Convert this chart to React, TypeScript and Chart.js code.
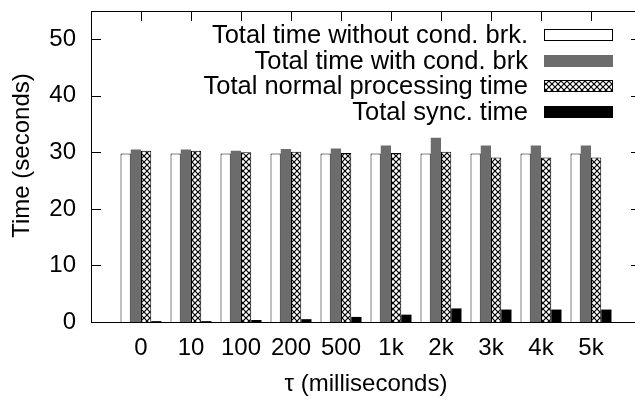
import React, { useEffect, useRef } from "react";
import { Chart, registerables } from "chart.js";

Chart.register(...registerables);

// τ values (ms) on the x axis
const categories = ["0", "10", "100", "200", "500", "1k", "2k", "3k", "4k", "5k"];

// Times in seconds
const timeWithoutBrk = [29.8, 29.8, 29.8, 29.8, 29.8, 29.8, 29.8, 29.8, 29.8, 29.8];
const timeWithBrk = [30.5, 30.5, 30.3, 30.6, 30.7, 31.2, 32.6, 31.2, 31.2, 31.2];
const normalProcTime = [30.3, 30.3, 30.0, 30.1, 29.9, 29.9, 30.1, 29.1, 29.1, 29.1];
const syncTime = [0.15, 0.15, 0.35, 0.5, 0.9, 1.3, 2.4, 2.2, 2.2, 2.2];

const seriesNames = [
  "Total time without cond. brk.",
  "Total time with cond. brk",
  "Total normal processing time",
  "Total sync. time",
];

const yTicks = [0, 10, 20, 30, 40, 50];
const yTitle = "Time (seconds)";

const FONT = "'Liberation Sans', Arial, Helvetica, sans-serif";

function makeCrosshatch(): CanvasPattern | string {
  const tile = document.createElement("canvas");
  tile.width = 6;
  tile.height = 6;
  const c = tile.getContext("2d");
  if (!c) return "#ccc";
  c.fillStyle = "#fff";
  c.fillRect(0, 0, 6, 6);
  c.strokeStyle = "#000";
  c.lineWidth = 1.2;
  c.beginPath();
  c.moveTo(0, 0);
  c.lineTo(6, 6);
  c.moveTo(6, 0);
  c.lineTo(0, 6);
  c.stroke();
  const p = c.createPattern(tile, "repeat");
  return p || "#ccc";
}

const toPoints = (vals: number[]) => vals.map((v, i) => ({ x: i, y: v }));

// inward tick marks drawn under the bars, frame and y title on top
const framePlugin = {
  id: "frame",
  beforeDatasetsDraw(chart: any) {
    const { ctx, chartArea: a, scales } = chart;
    const len = 10;
    ctx.save();
    ctx.strokeStyle = "#000";
    ctx.lineWidth = 1;
    ctx.beginPath();
    yTicks.forEach((t) => {
      const y = Math.round(scales.y.getPixelForValue(t)) + 0.5;
      ctx.moveTo(a.left, y);
      ctx.lineTo(a.left + len, y);
      ctx.moveTo(a.right, y);
      ctx.lineTo(a.right - len, y);
    });
    categories.forEach((_, i) => {
      const x = Math.round(scales.x.getPixelForValue(i)) + 0.5;
      ctx.moveTo(x, a.top);
      ctx.lineTo(x, a.top + len);
      ctx.moveTo(x, a.bottom);
      ctx.lineTo(x, a.bottom - len);
    });
    ctx.stroke();
    ctx.restore();
  },
  afterDraw(chart: any) {
    const { ctx, chartArea: a } = chart;
    ctx.save();
    ctx.strokeStyle = "#000";
    ctx.lineWidth = 1;
    ctx.strokeRect(Math.round(a.left) + 0.5, Math.round(a.top) + 0.5, Math.round(a.right - a.left), Math.round(a.bottom - a.top));
    // rotated y-axis title
    ctx.translate(22, (a.top + a.bottom) / 2 - 11);
    ctx.rotate(-Math.PI / 2);
    ctx.font = `24px ${FONT}`;
    ctx.fillStyle = "#000";
    ctx.textAlign = "center";
    ctx.textBaseline = "middle";
    ctx.fillText(yTitle, 0, 0);
    ctx.restore();
  },
};

// legend: right-aligned text with the swatch to its right
const legendPlugin = {
  id: "rightLegend",
  afterDraw(chart: any) {
    const { ctx } = chart;
    const textRight = 528;
    const boxLeft = 544;
    const boxW = 69;
    const boxH = 12;
    const firstRow = 35;
    const rowGap = 25.7;
    ctx.save();
    ctx.font = `25.5px ${FONT}`;
    ctx.textAlign = "right";
    ctx.textBaseline = "middle";
    chart.data.datasets.forEach((ds: any, i: number) => {
      const y = firstRow + i * rowGap;
      ctx.fillStyle = "#000";
      ctx.fillText(ds.label, textRight, y + 1);
      const top = Math.round(y - boxH / 2);
      ctx.fillStyle = ds.backgroundColor;
      ctx.fillRect(boxLeft, top, boxW, boxH);
      if (ds.borderWidth > 0) {
        ctx.strokeStyle = ds.borderColor;
        ctx.lineWidth = 1;
        ctx.strokeRect(boxLeft + 0.5, top + 0.5, boxW - 1, boxH - 1);
      }
    });
    ctx.restore();
  },
};

export default function App() {
  const canvasRef = useRef<HTMLCanvasElement | null>(null);

  useEffect(() => {
    const canvas = canvasRef.current;
    if (!canvas) return;
    const hatch = makeCrosshatch();
    const chart = new Chart(canvas, {
      type: "bar",
      data: {
        datasets: [
          {
            label: seriesNames[0],
            data: toPoints(timeWithoutBrk),
            backgroundColor: "#ffffff",
            borderColor: "#000000",
            borderWidth: 1,
          },
          {
            label: seriesNames[1],
            data: toPoints(timeWithBrk),
            backgroundColor: "#6c6c6c",
            borderColor: "#6c6c6c",
            borderWidth: 0,
          },
          {
            label: seriesNames[2],
            data: toPoints(normalProcTime),
            backgroundColor: hatch as any,
            borderColor: "#000000",
            borderWidth: 1,
          },
          {
            label: seriesNames[3],
            data: toPoints(syncTime),
            backgroundColor: "#000000",
            borderColor: "#000000",
            borderWidth: 0,
          },
        ],
      },
      options: {
        animation: false,
        responsive: false,
        events: [],
        categoryPercentage: 0.82,
        barPercentage: 1,
        layout: { padding: { top: 11, right: 4, left: 0, bottom: 0 } },
        plugins: {
          legend: { display: false },
          tooltip: { enabled: false },
          title: { display: false },
        },
        scales: {
          x: {
            type: "linear",
            offset: false,
            min: -1,
            max: 10,
            grid: { display: false, drawTicks: false },
            border: { display: false },
            ticks: {
              stepSize: 1,
              autoSkip: false,
              maxRotation: 0,
              padding: 12,
              color: "#000",
              font: { family: FONT, size: 24 },
              callback: (v: any) => categories[v as number] ?? "",
            },
            title: {
              display: true,
              text: "τ (milliseconds)",
              color: "#000",
              font: { family: FONT, size: 24 },
              padding: { top: 0, bottom: 1 },
            },
            afterFit: (s: any) => {
              s.height = 78;
              s.paddingLeft = 0;
              s.paddingRight = 0;
            },
          },
          y: {
            min: 0,
            max: 55,
            grid: { display: false, drawTicks: false },
            border: { display: false },
            ticks: {
              stepSize: 10,
              includeBounds: false,
              padding: 15,
              color: "#000",
              font: { family: FONT, size: 24 },
            },
            title: { display: false },
            afterFit: (s: any) => {
              s.width = 91;
              s.paddingTop = 0;
              s.paddingBottom = 0;
            },
          },
        },
      },
      plugins: [framePlugin, legendPlugin],
    });
    return () => chart.destroy();
  }, []);

  return (
    <div
      style={{
        position: "absolute",
        left: 0,
        top: 0,
        width: 635,
        height: 400,
        overflow: "hidden",
        background: "#fff",
      }}
    >
      <canvas ref={canvasRef} width={645} height={400} style={{ display: "block" }} />
    </div>
  );
}
